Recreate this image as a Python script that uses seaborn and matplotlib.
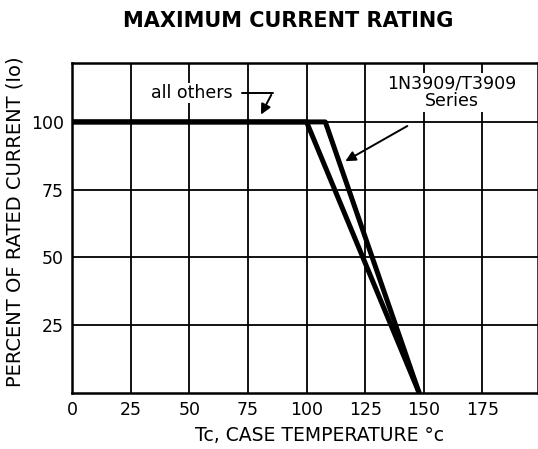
import pandas as pd
import numpy as np
import matplotlib
matplotlib.use("Agg")
import matplotlib.pyplot as plt
import seaborn as sns

sns.set_style("white")
plt.rcParams['font.family'] = ['DejaVu Sans']
plt.rcParams['text.color'] = 'black'
plt.rcParams['axes.labelcolor'] = 'black'
plt.rcParams['xtick.color'] = 'black'
plt.rcParams['ytick.color'] = 'black'

# ===================== Data =====================
temp_others = [0, 100, 148]
pct_others = [100, 100, 0]
temp_1n3909 = [0, 108, 148]
pct_1n3909 = [100, 100, 0]

x_ticks = [0, 25, 50, 75, 100, 125, 150, 175]
y_ticks = [25, 50, 75, 100]

df = pd.concat([
    pd.DataFrame({'temp': temp_others, 'pct': pct_others, 'series': 'all others'}),
    pd.DataFrame({'temp': temp_1n3909, 'pct': pct_1n3909, 'series': '1N3909/T3909 Series'}),
])

# ===================== Plot =====================
fig = plt.figure(figsize=(5.38, 4.49), dpi=100)
ax = fig.add_axes([0.134, 0.125, 0.866, 0.735])

sns.lineplot(data=df, x='temp', y='pct', units='series', estimator=None,
             color='black', linewidth=3.6, sort=False, ax=ax, legend=False)

ax.set_xlim(0, 198.7)
ax.set_ylim(0, 121.8)
ax.set_xticks(x_ticks)
ax.set_yticks(y_ticks)
ax.set_xticklabels([str(t) for t in x_ticks], fontsize=12.5)
ax.set_yticklabels([str(t) for t in y_ticks], fontsize=12.5)
ax.tick_params(length=0, pad=6)

for t in x_ticks[1:]:
    ax.axvline(t, color='black', linewidth=1.3, zorder=0)
for t in y_ticks:
    ax.axhline(t, color='black', linewidth=1.3, zorder=0)

for side in ['left', 'bottom', 'top', 'right']:
    ax.spines[side].set_color('black')
    ax.spines[side].set_linewidth(1.8)

ax.set_xlabel('Tc, CASE TEMPERATURE °c', fontsize=13.5, va='center')
ax.xaxis.set_label_coords(0.53, -0.128)
ax.set_ylabel('PERCENT OF RATED CURRENT (Io)', fontsize=14, va='center')
ax.yaxis.set_label_coords(-0.122, 0.518)
fig.suptitle('MAXIMUM CURRENT RATING', fontsize=15, fontweight='bold',
             x=0.535, y=0.975)

# annotations
ax.text(51, 110.7, 'all others', fontsize=12.5, ha='center', va='center',
        bbox=dict(facecolor='white', edgecolor='none', pad=1))
ax.plot([72.5, 85.5], [110.7, 110.7], color='black', linewidth=1.4)
ax.annotate('', xy=(80, 101.8), xytext=(85.5, 110.9),
            arrowprops=dict(arrowstyle='-|>', color='black', lw=1.4,
                            mutation_scale=15))

ax.text(162, 111, '1N3909/T3909\nSeries', fontsize=12.5, ha='center',
        va='center', linespacing=1.0,
        bbox=dict(facecolor='white', edgecolor='none', pad=1))
ax.annotate('', xy=(115.5, 85), xytext=(144, 99),
            arrowprops=dict(arrowstyle='-|>', color='black', lw=1.4,
                            mutation_scale=15))

plt.savefig('out.png', dpi=100)
